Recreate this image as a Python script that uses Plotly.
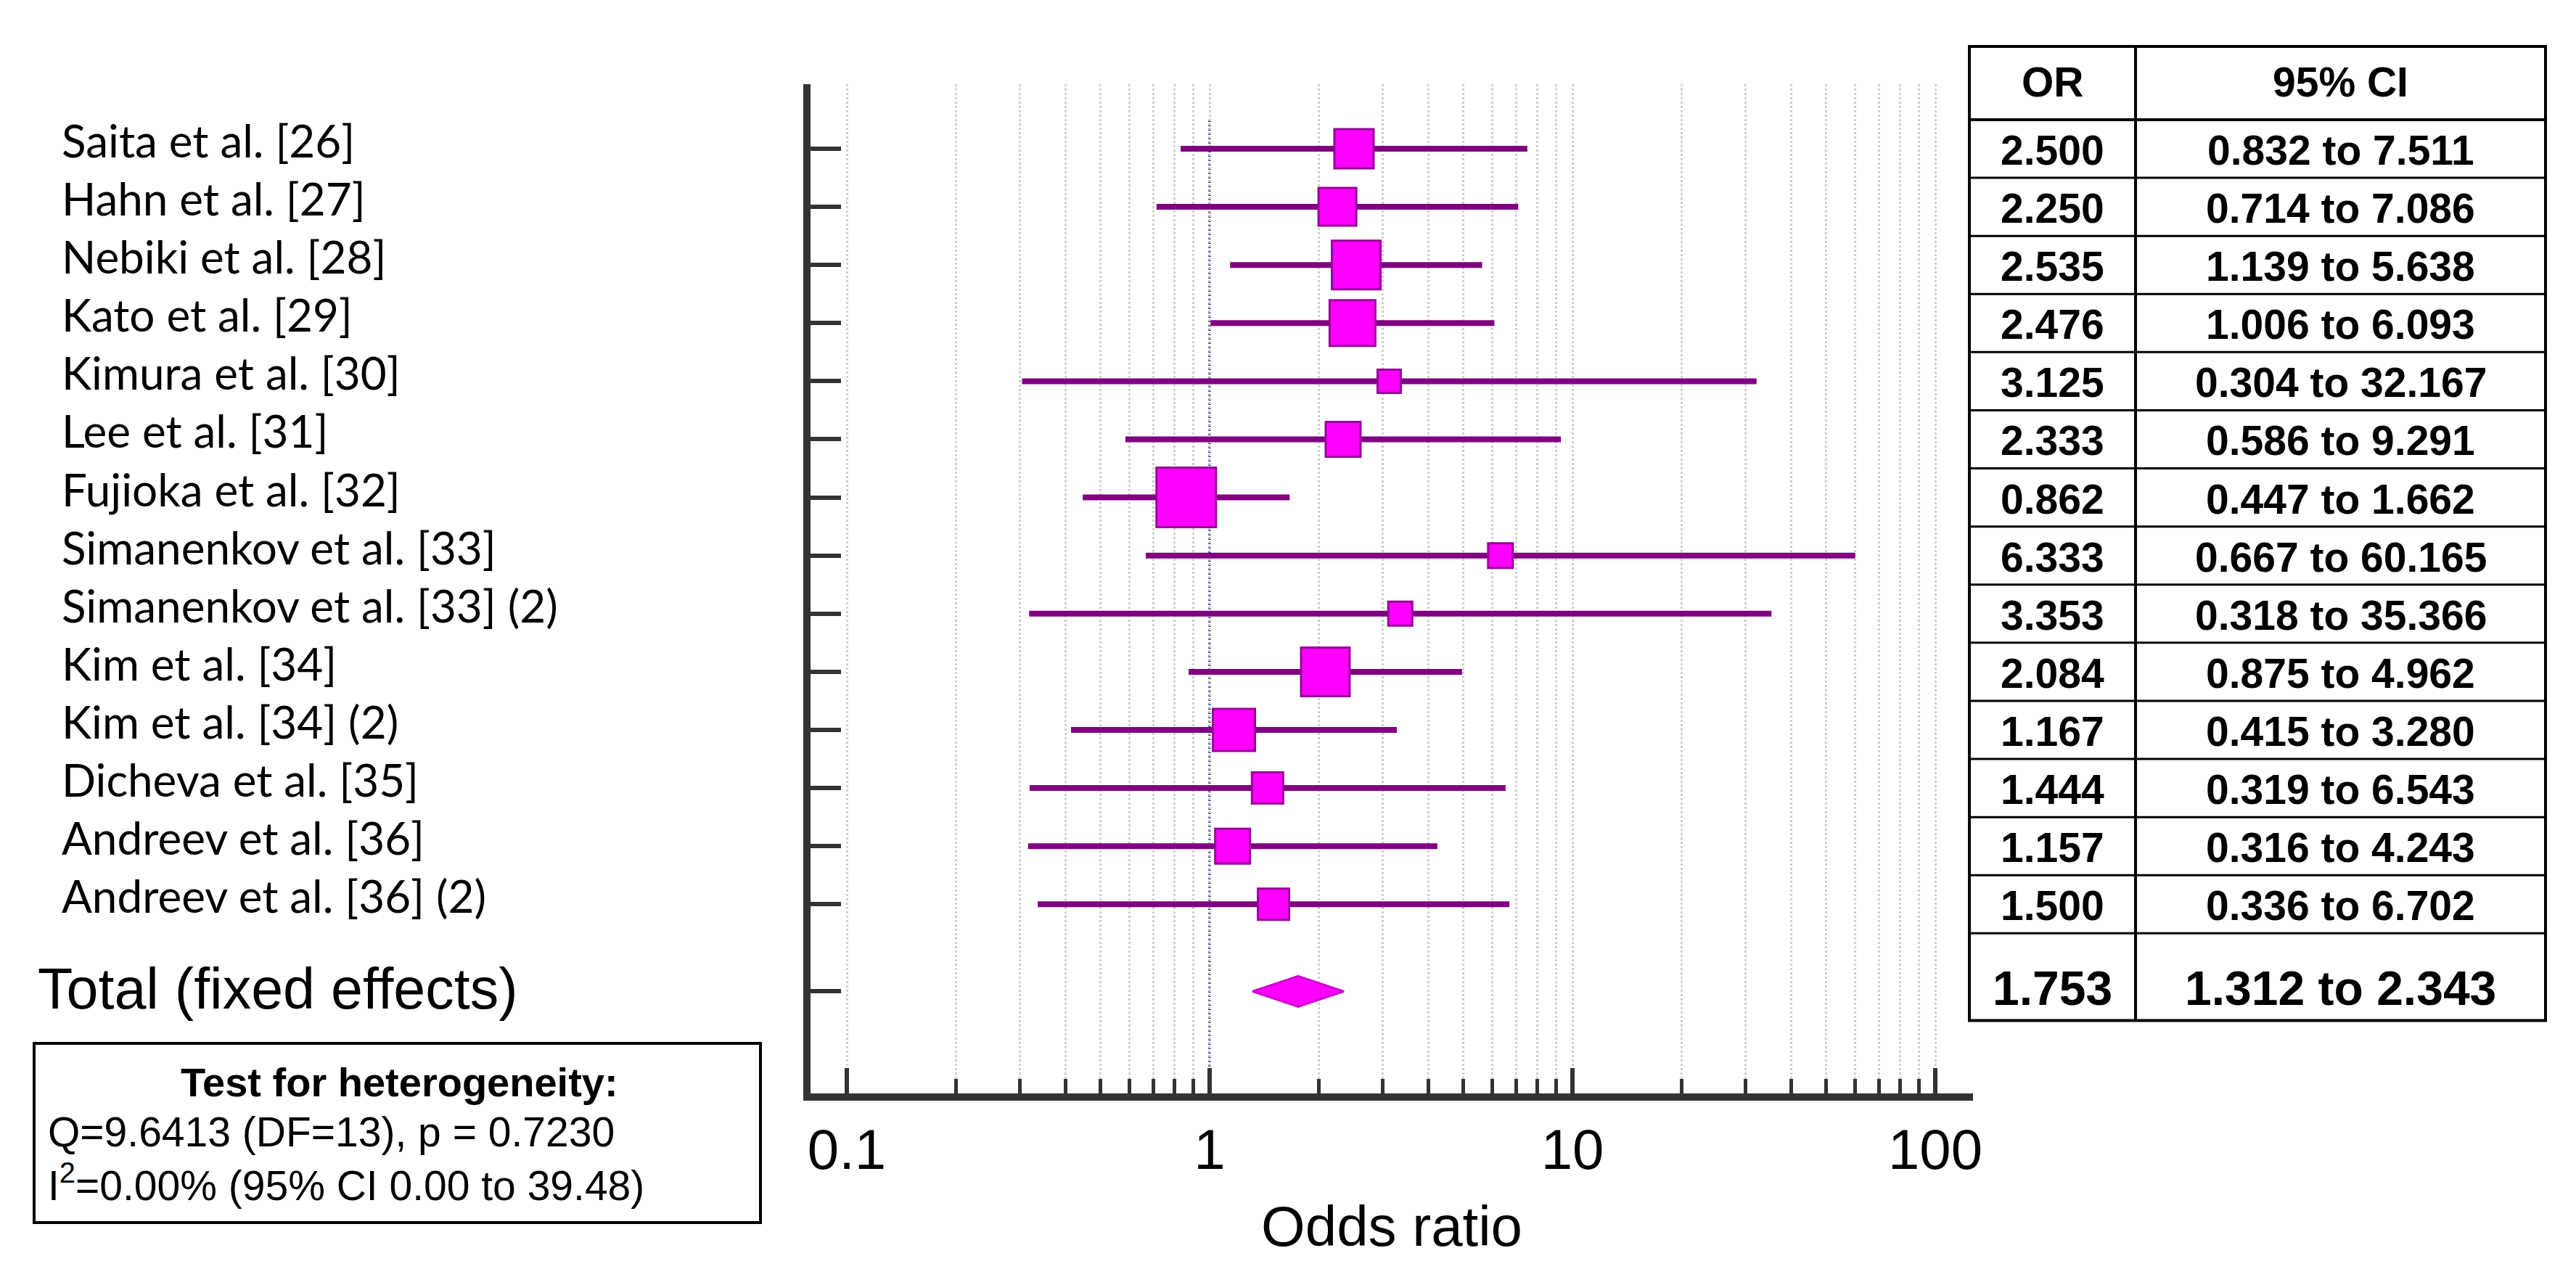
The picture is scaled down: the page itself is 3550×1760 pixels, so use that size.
import plotly.graph_objects as go

# study rows, top to bottom
studies = [
    "Saita et al. [26]", "Hahn et al. [27]", "Nebiki et al. [28]", "Kato et al. [29]",
    "Kimura et al. [30]", "Lee et al. [31]", "Fujioka et al. [32]", "Simanenkov et al. [33]",
    "Simanenkov et al. [33] (2)", "Kim et al. [34]", "Kim et al. [34] (2)", "Dicheva et al. [35]",
    "Andreev et al. [36]", "Andreev et al. [36] (2)",
]
odds_ratio = [2.500, 2.250, 2.535, 2.476, 3.125, 2.333, 0.862, 6.333, 3.353, 2.084, 1.167, 1.444, 1.157, 1.500]
ci_low = [0.832, 0.714, 1.139, 1.006, 0.304, 0.586, 0.447, 0.667, 0.318, 0.875, 0.415, 0.319, 0.316, 0.336]
ci_high = [7.511, 7.086, 5.638, 6.093, 32.167, 9.291, 1.662, 60.165, 35.366, 4.962, 3.280, 6.543, 4.243, 6.702]

total_label = "Total (fixed effects)"
total_or = 1.753
total_low = 1.312
total_high = 2.343

het_title = "Test for heterogeneity:"
het_q = "Q=9.6413 (DF=13), p = 0.7230"
het_i2 = "I<sup>2</sup>=0.00% (95% CI 0.00 to 39.48)"

x_ticks = [0.1, 1, 10, 100]
x_tick_text = ["0.1", "1", "10", "100"]
x_minor = [0.2, 0.3, 0.4, 0.5, 0.6, 0.7, 0.8, 0.9,
           2, 3, 4, 5, 6, 7, 8, 9,
           20, 30, 40, 50, 60, 70, 80, 90]
null_effect = 1

# box side in px (study weight)
box_side = [57, 55, 70, 66, 35, 51, 85, 37, 36, 70, 61, 46, 51, 46]

# ---- layout geometry (pixels of the 3550x1760 page) ----
W, H = 3550, 1760
L, R, T, B = 1109, 2711, 108, 1499
Y_TOP, Y_BOT = -1.111, 16.255


def px(x):
    return (x - L) / (R - L)


def py(y):
    return (B - y) / (B - T)


def row_paper(r):
    return (Y_BOT - r) / (Y_BOT - Y_TOP)


rows = list(range(len(studies)))
total_row = len(studies) + 0.5

AX = "#333333"
PURPLE = "#800080"
MAGENTA = "#ff00ff"

fig = go.Figure()

# confidence interval lines
ci_x, ci_y = [], []
for lo, hi, r in zip(ci_low, ci_high, rows):
    ci_x += [lo, hi, None]
    ci_y += [r, r, None]
fig.add_trace(go.Scatter(x=ci_x, y=ci_y, mode="lines",
                         line=dict(color=PURPLE, width=8), hoverinfo="skip", showlegend=False))

# study boxes
fig.add_trace(go.Scatter(x=odds_ratio, y=rows, mode="markers",
                         marker=dict(symbol="square", size=[s - 3 for s in box_side], color=MAGENTA,
                                     opacity=1, line=dict(color="#990099", width=3)),
                         showlegend=False))

# pooled diamond
dh = 0.262
fig.add_trace(go.Scatter(x=[total_low, total_or, total_high, total_or, total_low],
                         y=[total_row, total_row - dh, total_row, total_row + dh, total_row],
                         mode="lines", fill="toself", fillcolor=MAGENTA,
                         line=dict(color="#d000d0", width=3), showlegend=False))

shapes = []
# line of no effect
shapes.append(dict(type="line", xref="x", yref="y", x0=null_effect, x1=null_effect,
                   y0=-0.5, y1=Y_BOT, line=dict(color="#000080", width=3, dash="dot"), layer="below"))

# results table
t_left, t_mid, t_right = px(2706), px(2935), px(3500)
t_top = py(56)
t_bottom = row_paper(len(studies) + 1)
shapes.append(dict(type="rect", xref="paper", yref="paper", x0=t_left, x1=t_right,
                   y0=t_bottom, y1=t_top, line=dict(color="black", width=4)))
shapes.append(dict(type="line", xref="paper", yref="paper", x0=t_mid, x1=t_mid,
                   y0=t_bottom, y1=t_top, line=dict(color="black", width=4)))
for i in range(len(studies) + 1):
    yy = row_paper(i - 0.5)
    shapes.append(dict(type="line", xref="paper", yref="paper", x0=t_left, x1=t_right,
                       y0=yy, y1=yy, line=dict(color="black", width=4 if i == 0 else 3)))

# heterogeneity box
shapes.append(dict(type="rect", xref="paper", yref="paper", x0=px(39), x1=px(1040),
                   y0=py(1677), y1=py(1430), line=dict(color="black", width=4)))

annotations = []
label_font = dict(family="Lato, Liberation Sans, Arial", size=62, color="black")
for name, r in zip(studies, rows):
    annotations.append(dict(text=name, xref="paper", yref="y", x=px(75), y=r, yshift=12,
                            xanchor="left", yanchor="middle", showarrow=False, font=label_font))
annotations.append(dict(text=total_label, xref="paper", yref="y", x=px(42), y=total_row, yshift=4,
                        xanchor="left", yanchor="middle", showarrow=False,
                        font=dict(family="Liberation Sans, Arial", size=79, color="black")))

tab_font = dict(family="Liberation Sans, Arial", size=57, color="black", weight="bold")
c_or, c_ci = (t_left + t_mid) / 2, (t_mid + t_right) / 2
for txt, cx in (("OR", c_or), ("95% CI", c_ci)):
    annotations.append(dict(text=txt, xref="paper", yref="paper", x=cx, y=py(105),
                            xanchor="center", yanchor="middle", showarrow=False, font=tab_font))
for o, lo, hi, r in zip(odds_ratio, ci_low, ci_high, rows):
    annotations.append(dict(text=f"{o:.3f}", xref="paper", yref="y", x=c_or, y=r, yshift=-2,
                            xanchor="center", yanchor="middle", showarrow=False, font=tab_font))
    annotations.append(dict(text=f"{lo:.3f} to {hi:.3f}", xref="paper", yref="y", x=c_ci, y=r, yshift=-2,
                            xanchor="center", yanchor="middle", showarrow=False, font=tab_font))
tot_font = dict(tab_font, size=66)
annotations.append(dict(text=f"{total_or:.3f}", xref="paper", yref="y", x=c_or, y=total_row - 0.05,
                        xanchor="center", yanchor="middle", showarrow=False, font=tot_font))
annotations.append(dict(text=f"{total_low:.3f} to {total_high:.3f}", xref="paper", yref="y", x=c_ci,
                        y=total_row - 0.05, xanchor="center", yanchor="middle", showarrow=False,
                        font=tot_font))

het_font = dict(family="Liberation Sans, Arial", size=57, color="black")
annotations.append(dict(text=het_title, xref="paper", yref="paper", x=px(542), y=py(1483),
                        xanchor="center", yanchor="middle", showarrow=False,
                        font=dict(het_font, weight="bold", size=56)))
annotations.append(dict(text=het_q, xref="paper", yref="paper", x=px(56), y=py(1552),
                        xanchor="left", yanchor="middle", showarrow=False, font=het_font))
annotations.append(dict(text=het_i2, xref="paper", yref="paper", x=px(56), y=py(1622),
                        xanchor="left", yanchor="middle", showarrow=False, font=het_font))

fig.update_layout(
    width=W, height=H,
    margin=dict(l=L, r=W - R, t=T, b=H - B, pad=0),
    paper_bgcolor="white", plot_bgcolor="white",
    shapes=shapes, annotations=annotations,
    xaxis=dict(type="log", range=[-1.1, 2.104], autorange=False,
               tickvals=x_ticks, ticktext=x_tick_text,
               ticks="inside", ticklen=35, tickwidth=6, tickcolor=AX,
               tickfont=dict(family="Liberation Sans, Arial", size=78, color="black"),
               showline=True, linecolor=AX, linewidth=10,
               showgrid=True, gridcolor="#cfcfcf", gridwidth=3, griddash="dot",
               minor=dict(tickvals=x_minor, ticks="inside", ticklen=20, tickwidth=5, tickcolor=AX,
                          showgrid=True, gridcolor="#cfcfcf", gridwidth=3, griddash="dot"),
               zeroline=False,
               title=dict(text="Odds ratio", standoff=40,
                          font=dict(family="Liberation Sans, Arial", size=78, color="black"))),
    yaxis=dict(range=[Y_BOT, Y_TOP], autorange=False,
               tickvals=rows + [total_row], showticklabels=False,
               ticks="inside", ticklen=42, tickwidth=6, tickcolor=AX,
               showline=True, linecolor=AX, linewidth=10,
               showgrid=False, zeroline=False),
)

fig.write_html("out.html")
